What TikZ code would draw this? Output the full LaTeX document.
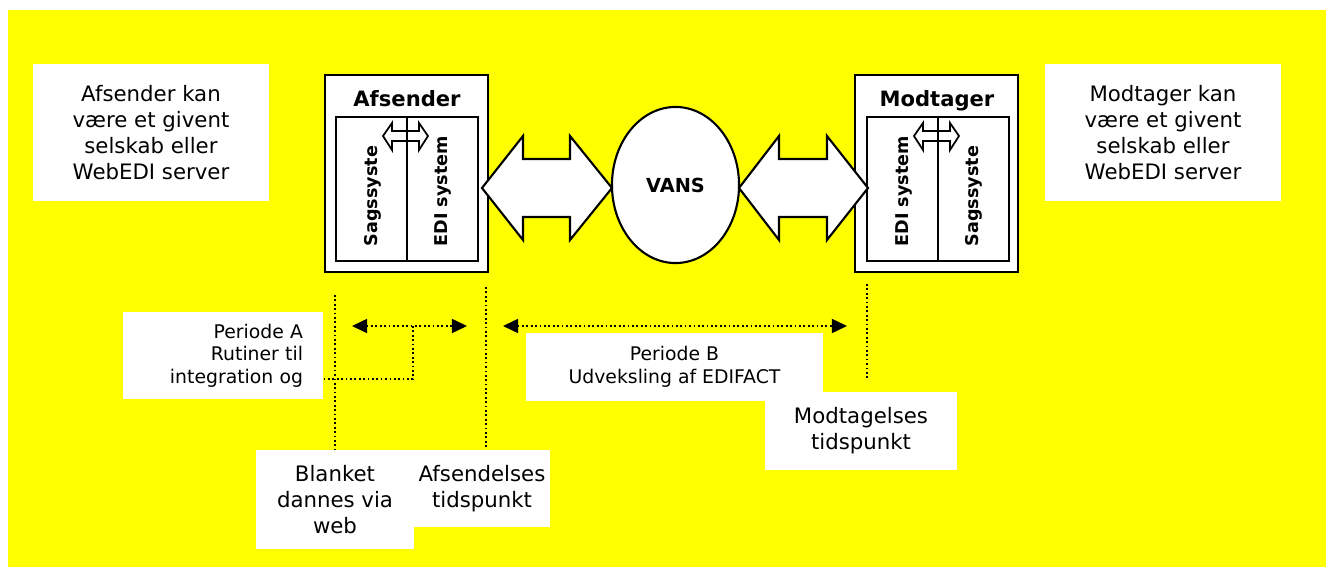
\documentclass[tikz,border=0pt]{standalone}
\usepackage{fontspec}
\setmainfont{DejaVu Sans}
\usetikzlibrary{arrows.meta,positioning,shapes.geometric}
\definecolor{bgyellow}{RGB}{255,255,0}

\tikzset{
  textbox/.style={fill=white, inner sep=0pt, align=center, font=\fontsize{6.05}{7.4}\selectfont},
  smallbox/.style={fill=white, inner sep=0pt, font=\fontsize{5.35}{6.4}\selectfont},
  outerbox/.style={draw, fill=white, line width=0.6pt, inner sep=0pt},
  innerbox/.style={draw, line width=0.5pt, inner sep=0pt},
  boldlabel/.style={font=\fontsize{6}{7}\selectfont\bfseries, inner sep=0pt},
  sidelabel/.style={font=\fontsize{5}{6}\selectfont\bfseries, inner sep=0pt, rotate=90, anchor=base west},
  fatarrow/.style={draw, fill=white, line width=0.6pt, line join=miter},
  dotline/.style={line width=0.5pt, dash pattern=on 0.5pt off 0.75pt},
  dotarrow/.style={dotline, {Triangle[length=4.3pt,width=4pt]}-{Triangle[length=4.3pt,width=4pt]}},
}

\begin{document}
\begin{tikzpicture}[x=0.01cm, y=-0.01cm]
\useasboundingbox (0,0) rectangle (1326,567);
\fill[white] (0,0) rectangle (1326,567);
\fill[bgyellow] (8,10) rectangle (1326,567);

% side notes
\node[textbox, minimum width=2.36cm, minimum height=1.37cm] (afsnote) at (151,132.5)
  {Afsender kan\\ v\ae re et givent\\ selskab eller\\ WebEDI server};
\node[textbox, minimum width=2.36cm, minimum height=1.37cm] (modnote) at (1163,132.5)
  {Modtager kan\\ v\ae re et givent\\ selskab eller\\ WebEDI server};

% sender
\node[outerbox, minimum width=1.63cm, minimum height=1.97cm] (afs) at (406.5,173.5) {};
\node[boldlabel, anchor=base] (afstitle) at (407,107) {Afsender};
\node[innerbox, minimum width=1.42cm, minimum height=1.44cm] (afsin) at (407,189) {};
\draw[fatarrow, line width=0.5pt] (383,136) -- (392,123) -- (392,131) -- (419,131) -- (419,123)
  -- (428,136) -- (419,150) -- (419,141) -- (392,141) -- (392,150) -- cycle;
\draw[line width=0.5pt] (afsin.north) -- (afsin.south);
\node[sidelabel] (afssag) at (377,247) {Sagssyste};
\node[sidelabel] (afsedi) at (447,247) {EDI system};

% receiver
\node[outerbox, minimum width=1.63cm, minimum height=1.97cm] (mod) at (936.5,173.5) {};
\node[boldlabel, anchor=base] (modtitle) at (937,107) {Modtager};
\node[innerbox, minimum width=1.42cm, minimum height=1.44cm] (modin) at (938,189) {};
\draw[fatarrow, line width=0.5pt] (914,136) -- (923,123) -- (923,131) -- (950,131) -- (950,123)
  -- (959,136) -- (950,150) -- (950,141) -- (923,141) -- (923,150) -- cycle;
\draw[line width=0.5pt] (modin.north) -- (modin.south);
\node[sidelabel] (modedi) at (908,247) {EDI system};
\node[sidelabel] (modsag) at (978,247) {Sagssyste};

% network
\node[draw, fill=white, ellipse, line width=0.6pt, inner sep=0pt, minimum width=1.27cm,
  minimum height=1.56cm, font=\fontsize{5.5}{7}\selectfont\bfseries] (vans) at (675.5,185) {VANS};
\draw[fatarrow] (482,188) -- (523,136) -- (523,159) -- (570,159) -- (570,136) -- (612,188)
  -- (570,240) -- (570,217) -- (523,217) -- (523,240) -- cycle;
\draw[fatarrow] (739,188) -- (779,136) -- (779,159) -- (827,159) -- (827,136) -- (868,188)
  -- (827,240) -- (827,217) -- (779,217) -- (779,240) -- cycle;

% time notes
\node[textbox, minimum width=1.58cm, minimum height=0.99cm] (blank) at (335,499.5)
  {Blanket\\ dannes via\\ web};
\node[textbox, minimum width=1.36cm, minimum height=0.77cm] (afsend) at (482,488.5)
  {Afsendelses\\ tidspunkt};
\node[textbox, minimum width=1.92cm, minimum height=0.78cm] (modtag) at (861,431)
  {Modtagelses\\ tidspunkt};
\node[smallbox, align=right, text width=1.6cm, minimum width=2cm, minimum height=0.87cm] (perA) at (223,355.5)
  {Periode A\\ Rutiner til\\ integration og};
\node[smallbox, align=center, minimum width=2.97cm, minimum height=0.68cm] (perB) at (674.5,367)
  {Periode B\\ Udveksling af EDIFACT};

% time lines
\coordinate (tweb) at (335,295);
\coordinate (tsend) at (486,287);
\coordinate (trecv) at (867,284);
\draw[dotline] (tweb) -- (tweb |- blank.north);
\draw[dotline] (tsend) -- (tsend |- afsend.north);
\draw[dotline] (trecv) -- (867,379);

\coordinate (pa-l) at (352,326);
\coordinate (pa-r) at (467,326);
\coordinate (pa-mid) at (413,326);
\coordinate (pa-low) at (413,379);
\draw[dotarrow] (pa-l) -- (pa-r);
\draw[dotline] (pa-mid) -- (pa-low) -- (perA.east |- pa-low);
\coordinate (pb-l) at (503,326);
\coordinate (pb-r) at (847,326);
\draw[dotarrow] (pb-l) -- (pb-r);
\end{tikzpicture}
\end{document}
